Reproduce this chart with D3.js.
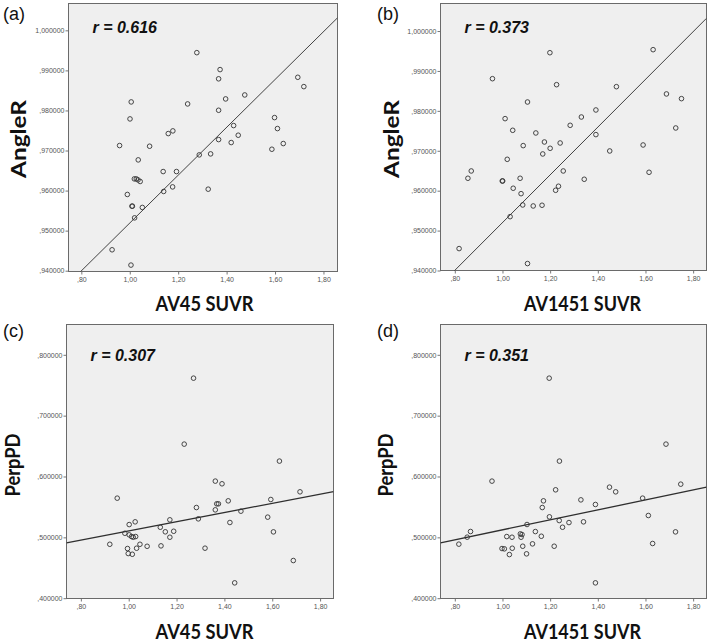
<!DOCTYPE html>
<html>
<head>
<meta charset="utf-8">
<script src="https://cdn.jsdelivr.net/npm/d3@7"></script>
<style>
  html, body { margin: 0; padding: 0; background: #ffffff; }
  svg { display: block; }
</style>
</head>
<body>
<svg id="chart" width="709" height="644"></svg>
<script>
// ---------------- DATA ----------------
const panelLabels = ["(a)", "(b)", "(c)", "(d)"];
const xTitles = ["AV45 SUVR", "AV1451 SUVR", "AV45 SUVR", "AV1451 SUVR"];
const yTitles = ["AngleR", "AngleR", "PerpPD", "PerpPD"];
const rTexts = ["r = 0.616", "r = 0.373", "r = 0.307", "r = 0.351"];

const xTicks = [0.80, 1.00, 1.20, 1.40, 1.60, 1.80];
const yTicksAngle = [0.94, 0.95, 0.96, 0.97, 0.98, 0.99, 1.00];
const yTicksPerp = [0.4, 0.5, 0.6, 0.7, 0.8];

// fitted regression lines: y = intercept + slope * x
const fitIntercept = [0.8922, 0.8922, 0.4351, 0.4303];
const fitSlope = [0.0597, 0.0598, 0.0755, 0.0820];

// (a) AV45 SUVR vs AngleR
const av45A = [1.277,1.373,1.367,1.694,1.719,1.475,1.396,1.006,1.239,1.367,1.001,1.598,1.429,1.610,1.178,1.159,1.448,1.367,1.419,1.634,1.587,0.958,1.082,1.287,1.334,1.035,1.138,1.193,1.019,1.027,1.034,1.043,0.990,1.177,1.140,1.324,1.009,1.011,1.052,1.020,0.927,1.005];
const angleA = [0.99443,0.9902,0.9879,0.98828,0.98595,0.98387,0.98288,0.98213,0.98163,0.98005,0.97789,0.97822,0.97623,0.97548,0.97490,0.97423,0.97382,0.97273,0.97199,0.97174,0.97032,0.97124,0.97107,0.96891,0.96916,0.96766,0.96475,0.96475,0.96292,0.96292,0.96267,0.96227,0.95903,0.96092,0.95978,0.96035,0.95611,0.95611,0.95579,0.95319,0.94522,0.94140];

// (b) AV1451 SUVR vs AngleR
const av1451B = [1.199,1.632,0.958,1.227,1.478,1.105,1.688,1.751,1.011,1.392,1.331,1.284,1.043,1.727,1.140,1.392,1.176,1.242,1.087,1.590,1.200,1.169,1.450,1.020,0.869,0.855,1.255,1.615,0.999,1.001,1.074,1.343,1.045,1.235,1.223,1.078,1.085,1.129,1.166,1.032,0.818,1.105];
const angleB = [0.99457,0.99533,0.98806,0.98656,0.98606,0.98222,0.98424,0.98306,0.97805,0.98022,0.97846,0.97638,0.97513,0.97571,0.97446,0.97405,0.97220,0.97195,0.97129,0.97145,0.97062,0.96920,0.96995,0.96786,0.96494,0.96311,0.96494,0.96461,0.96243,0.96243,0.96311,0.96286,0.96061,0.96111,0.96010,0.95925,0.95642,0.95617,0.95635,0.95349,0.94549,0.94174];

// (c) AV45 SUVR vs PerpPD
const av45C = [1.271,1.232,1.630,1.362,1.390,0.952,1.716,1.375,1.368,1.416,1.594,1.283,1.362,1.469,1.581,1.291,1.172,1.027,1.423,1.002,1.132,1.153,1.188,1.605,0.984,1.002,1.012,1.019,1.029,1.172,0.921,1.047,1.077,1.135,0.995,1.033,0.998,1.015,1.319,1.688,1.443];
const perpC = [0.7616,0.6532,0.6253,0.5924,0.5880,0.5644,0.5748,0.5551,0.5551,0.5600,0.5622,0.5490,0.5452,0.5430,0.5332,0.5304,0.5288,0.5255,0.5244,0.5210,0.5166,0.5091,0.5100,0.5090,0.5067,0.5041,0.5013,0.5002,0.5013,0.5002,0.4886,0.4886,0.4853,0.4860,0.4816,0.4821,0.4734,0.4722,0.4822,0.4619,0.4252];

// (d) AV1451 SUVR vs PerpPD
const av1451D = [1.196,1.686,1.239,0.956,1.748,1.449,1.223,1.475,1.588,1.329,1.172,1.390,1.167,1.612,1.197,1.238,1.279,1.340,1.103,1.252,1.138,1.726,0.866,0.852,1.075,1.082,1.078,1.018,1.040,1.163,0.817,1.126,1.630,0.998,1.008,1.041,1.085,1.217,1.029,1.101,1.390];
const perpD = [0.7616,0.6532,0.6253,0.5924,0.5874,0.5825,0.5781,0.5748,0.5644,0.5616,0.5600,0.5540,0.5490,0.5359,0.5337,0.5276,0.5243,0.5255,0.5211,0.5166,0.5095,0.5090,0.5096,0.5003,0.5057,0.5046,0.5002,0.5013,0.5002,0.5018,0.4888,0.4893,0.4899,0.4816,0.4811,0.4821,0.4854,0.4854,0.4717,0.4729,0.4252];

const xSeries = [av45A, av1451B, av45C, av1451D];
const ySeries = [angleA, angleB, perpC, perpD];

// ---------------- LAYOUT ----------------
const panels = [
  { box: [68.5, 3.5, 337.5, 271.5], xd: [0.747, 1.858], yd: [0.9398, 1.0067], yTicks: yTicksAngle,
    label: [3, 20], yTitleX: 26, yTitleCy: 139, xTitleY: 311, xTitleCx: 204.5, xLen: 98, yLen: 78 },
  { box: [440.5, 3.5, 706.5, 270.5], xd: [0.740, 1.856], yd: [0.9400, 1.0069], yTicks: yTicksAngle,
    label: [377, 20], yTitleX: 399, yTitleCy: 139, xTitleY: 310.5, xTitleCx: 582.5, xLen: 117, yLen: 78 },
  { box: [66.5, 324.5, 333.5, 598.5], xd: [0.740, 1.856], yd: [0.3995, 0.8498], yTicks: yTicksPerp,
    label: [3, 337], yTitleX: 19.5, yTitleCy: 465, xTitleY: 638.5, xTitleCx: 204.5, xLen: 98, yLen: 63 },
  { box: [440.5, 324.5, 706.5, 598.5], xd: [0.740, 1.856], yd: [0.3995, 0.8498], yTicks: yTicksPerp,
    label: [377, 337], yTitleX: 392.5, yTitleCy: 465, xTitleY: 638.5, xTitleCx: 582.5, xLen: 117, yLen: 63 }
];

const fmtX = v => { const s = v.toFixed(2).replace(".", ","); return s.startsWith("0") ? s.slice(1) : s; };
const fmtY = v => { const s = v.toFixed(6).replace(".", ","); return s.startsWith("0") ? s.slice(1) : s; };

const svg = d3.select("#chart");
const defs = svg.append("defs");

panels.forEach((p, i) => {
  const [x0, y0, x1, y1] = p.box;
  const x = d3.scaleLinear().domain(p.xd).range([x0, x1]);
  const y = d3.scaleLinear().domain(p.yd).range([y1, y0]);
  const g = svg.append("g");

  g.append("rect").attr("x", x0).attr("y", y0).attr("width", x1 - x0).attr("height", y1 - y0)
    .attr("fill", "#efefef").attr("stroke", "none");

  defs.append("clipPath").attr("id", "clip" + i)
    .append("rect").attr("x", x0).attr("y", y0).attr("width", x1 - x0).attr("height", y1 - y0);

  const xAxis = d3.axisBottom(x).tickValues(xTicks).tickFormat(fmtX).tickSize(3).tickPadding(3);
  const yAxis = d3.axisLeft(y).tickValues(p.yTicks).tickFormat(fmtY).tickSize(3).tickPadding(1);
  const gx = g.append("g").attr("transform", `translate(0,${y1})`).call(xAxis);
  const gy = g.append("g").attr("transform", `translate(${x0},0)`).call(yAxis);
  [gx, gy].forEach(ax => {
    ax.select(".domain").remove();
    ax.selectAll(".tick line").attr("stroke", "#777").attr("stroke-width", 1);
    ax.selectAll(".tick text").attr("fill", "#555").style("font-family", "Liberation Sans, Arial, sans-serif")
      .style("font-size", "7px");
  });

  g.append("rect").attr("x", x0).attr("y", y0).attr("width", x1 - x0).attr("height", y1 - y0)
    .attr("fill", "none").attr("stroke", "#6a6a6a").attr("stroke-width", 1);

  const fx = p.xd;
  g.append("line")
    .attr("clip-path", `url(#clip${i})`)
    .attr("x1", x(fx[0])).attr("y1", y(fitIntercept[i] + fitSlope[i] * fx[0]))
    .attr("x2", x(fx[1])).attr("y2", y(fitIntercept[i] + fitSlope[i] * fx[1]))
    .attr("stroke", "#2f2f2f").attr("stroke-width", i < 2 ? 0.9 : 1.3);

  const pts = xSeries[i].map((v, k) => [v, ySeries[i][k]]);
  g.selectAll("circle.pt").data(pts).enter().append("circle")
    .attr("class", "pt")
    .attr("cx", d => x(d[0])).attr("cy", d => y(d[1])).attr("r", 2.3)
    .attr("fill", "none").attr("stroke", "#333").attr("stroke-width", 0.9);

  g.append("text").attr("x", x0 + 24).attr("y", y0 + (i < 2 ? 29 : 36.5))
    .text(rTexts[i])
    .style("font-family", "Liberation Sans, Arial, sans-serif").style("font-weight", "bold")
    .style("font-style", "italic").style("font-size", "16px").attr("fill", "#111");

  svg.append("text").attr("x", p.label[0]).attr("y", p.label[1]).text(panelLabels[i])
    .style("font-family", "Liberation Sans, Arial, sans-serif").style("font-size", "18px").attr("fill", "#111");

  svg.append("text").attr("x", p.xTitleCx).attr("y", p.xTitleY)
    .attr("text-anchor", "middle").text(xTitles[i])
    .attr("textLength", p.xLen).attr("lengthAdjust", "spacingAndGlyphs")
    .style("font-family", "Lato, sans-serif").style("font-weight", "bold")
    .style("font-size", "21px").attr("fill", "#111");

  svg.append("text")
    .attr("transform", `translate(${p.yTitleX},${p.yTitleCy}) rotate(-90)`)
    .attr("text-anchor", "middle").text(yTitles[i])
    .attr("textLength", p.yLen).attr("lengthAdjust", "spacingAndGlyphs")
    .style("font-family", "Lato, sans-serif").style("font-weight", "bold")
    .style("font-size", "20px").attr("fill", "#111");
});
</script>
</body>
</html>
